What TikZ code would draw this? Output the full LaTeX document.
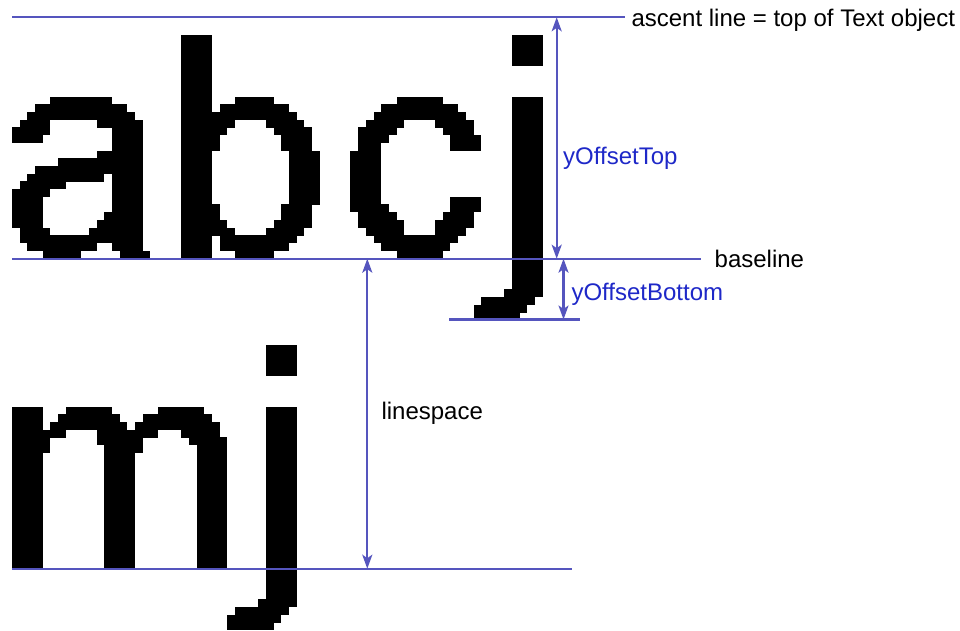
\documentclass[tikz,border=0pt]{standalone}
\usepackage{fontspec}
\setmainfont{Liberation Sans}
\usetikzlibrary{arrows.meta}
\definecolor{guide}{RGB}{85,85,190}
\definecolor{labelblue}{RGB}{30,40,200}
% rows ja..jb (counted upward from the baseline #1), columns ca..cb
\newcommand\pixglyph[2]{%
  \foreach \ja/\jb/\ca/\cb in {#2}{%
    \fill[glyph] ({12+\ca*7.692},{#1-(\jb+1)*7.7-0.15}) rectangle ({12+(\cb+1)*7.692},{#1-\ja*7.7+0.15});
  }%
}
\begin{document}
\begin{tikzpicture}[x=1pt,y=-1pt,
  glyph/.style={fill=black},
  guideline/.style={draw=guide,line width=2.2pt},
  dimarrow/.style={guideline,{Stealth[length=14pt,width=10pt,inset=3.5pt]}-{Stealth[length=14pt,width=10pt,inset=3.5pt]}},
  lbl/.style={font=\fontsize{24}{28}\selectfont,inner sep=0pt,anchor=base west,text=black},
  bluelbl/.style={lbl,text=labelblue}]
\useasboundingbox (0,0) rectangle (960,631);
\fill[white] (0,0) rectangle (960,631);

% ---- line 1: a
\pixglyph{258.5}{20/20/5/12, 19/19/3/14, 18/18/2/15, 17/17/1/4, 17/17/11/16,
  16/16/0/4, 16/16/13/16, 15/15/0/3, 15/15/13/16, 14/14/13/16, 13/13/11/16,
  12/12/6/16, 11/11/3/16, 10/10/2/11, 10/10/13/16, 9/9/1/6, 9/9/13/16,
  8/8/0/4, 8/8/13/16, 6/7/0/3, 6/7/13/16, 5/5/0/3, 5/5/12/16, 4/4/0/3, 4/4/11/16,
  3/3/1/4, 3/3/10/16, 2/2/1/16, 1/1/2/10, 1/1/13/16, 0/0/4/8, 0/0/14/17}
% ---- b
\pixglyph{258.5}{0/28/22/25, 20/20/29/33, 19/19/27/35, 18/18/26/36,
  17/17/26/28, 17/17/33/37, 16/16/26/27, 16/16/34/38, 14/15/26/26, 14/15/35/38,
  7/13/36/39, 5/6/26/26, 5/6/35/38, 4/4/26/27, 4/4/34/38, 3/3/26/28, 3/3/33/37,
  2/2/27/36, 1/1/27/35, 0/0/29/33}
% ---- c
\pixglyph{258.5}{20/20/50/55, 19/19/48/57, 18/18/47/58, 17/17/46/50, 17/17/55/59,
  16/16/45/49, 16/16/56/59, 15/15/45/48, 15/15/57/60, 14/14/45/47, 14/14/57/60,
  7/13/44/47, 6/7/57/60, 6/6/44/48, 5/5/45/49, 5/5/56/59, 4/4/45/50, 4/4/55/59,
  3/3/46/50, 3/3/55/58, 2/2/47/57, 1/1/48/56, 0/0/50/55}
% ---- j
\pixglyph{258.5}{25/28/65/68, -4/20/65/68, -5/-5/64/68, -6/-6/61/67, -7/-7/60/66, -8/-8/60/65}

% ---- line 2: m
\pixglyph{568.5}{0/20/0/3, 20/20/7/12, 20/20/19/24, 19/19/6/13, 19/19/17/25,
  18/18/5/14, 18/18/16/26, 17/17/4/6, 17/17/11/18, 17/17/22/26,
  15/16/4/4, 16/16/11/16, 16/16/23/27, 15/15/12/16, 15/15/24/27,
  0/14/12/15, 0/14/24/27}
% ---- j
\pixglyph{568.5}{25/28/33/36, -4/20/33/36, -5/-5/32/36, -6/-6/29/35, -7/-7/28/34, -8/-8/28/33}

% ---- guide lines
\coordinate (ascL) at (12,17.3);     \coordinate (ascR) at (625,17.3);
\coordinate (baseL) at (12,258.7);   \coordinate (baseR) at (700.7,258.7);
\coordinate (descL) at (449.3,319.5);\coordinate (descR) at (580,319.5);
\coordinate (base2L) at (12,568.7);  \coordinate (base2R) at (572,568.7);
\coordinate (topA) at (556.7,17.3);  \coordinate (topB) at (556.7,258.7);
\coordinate (botA) at (563.5,258.7); \coordinate (botB) at (563.5,319.5);
\coordinate (lsA) at (367.3,258.7);  \coordinate (lsB) at (367.3,568.7);

\draw[guideline] (ascL) -- (ascR);
\draw[guideline] (baseL) -- (baseR);
\draw[guideline] (descL) -- (descR);
\draw[guideline] (base2L) -- (base2R);

\draw[dimarrow] (topA) -- (topB);
\draw[dimarrow] (botA) -- (botB);
\draw[dimarrow] (lsA) -- (lsB);

% ---- labels
\node[lbl] (asclbl) at (631.3,26.7) {ascent line = top of Text object};
\node[lbl] (baselbl) at (714.5,267.3) {baseline};
\node[lbl] (lslbl) at (381.3,419.3) {linespace};
\node[bluelbl] (toplbl) at (563,164.5) {yOffsetTop};
\node[bluelbl] (botlbl) at (571.3,300.5) {yOffsetBottom};
\end{tikzpicture}
\end{document}
